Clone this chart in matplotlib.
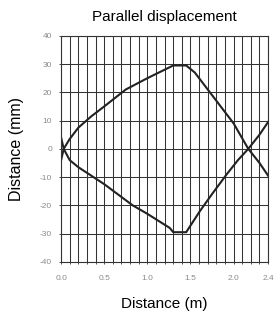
import matplotlib
matplotlib.use("Agg")
import matplotlib.pyplot as plt
import numpy as np

plt.rcParams["font.family"] = ["Liberation Sans", "DejaVu Sans"]

# upper branch (rises to +30, falls through 0 near 2.17)
upper_x = [0.0, 0.03, 0.1, 0.2, 0.35, 0.5, 0.75, 1.0, 1.2, 1.3, 1.45, 1.55, 1.7, 1.9, 2.0, 2.17, 2.3, 2.4]
upper_y = [-4, 0, 3.5, 7.5, 11.5, 15, 21, 25, 28, 29.5, 29.5, 27, 21, 13, 9, 0, -5, -9.5]
# lower branch (mirror)
lower_x = [0.0, 0.03, 0.1, 0.2, 0.35, 0.5, 0.83, 1.0, 1.26, 1.3, 1.45, 1.61, 1.75, 1.92, 2.05, 2.17, 2.3, 2.4]
lower_y = [4, 0, -4, -6.5, -9.5, -12.5, -20, -23, -28, -29.5, -29.5, -22, -16, -9, -4, 0, 5, 9.5]

y_ticks = [-40, -30, -20, -10, 0, 10, 20, 30, 40]
x_ticks = [0.0, 0.5, 1.0, 1.5, 2.0, 2.4]
x_labels = ["0.0", "0.5", "1.0", "1.5", "2.0", "2.4"]

fig = plt.figure(figsize=(2.79, 3.14), dpi=100)
ax = fig.add_axes([0.219, 0.166, 0.742, 0.720])

ax.plot(upper_x, upper_y, color="#222222", lw=1.5, solid_joinstyle="round")
ax.plot(lower_x, lower_y, color="#222222", lw=1.5, solid_joinstyle="round")

ax.set_xlim(0, 2.4)
ax.set_ylim(-40, 40)
ax.set_yticks(y_ticks)
ax.set_yticklabels([str(v) for v in y_ticks], fontsize=6, color="#8a8a8a")
ax.set_xticks(x_ticks)
ax.set_xticklabels(x_labels, fontsize=6, color="#8a8a8a")
ax.set_xticks(np.arange(0, 2.41, 0.1), minor=True)
ax.tick_params(which="both", direction="inout", length=3, width=0.6, color="#333333")
ax.tick_params(axis="x", which="both", pad=8)
ax.tick_params(axis="y", pad=5)

ax.grid(True, which="major", color="#333333", lw=0.75)
ax.grid(True, which="minor", axis="x", color="#333333", lw=0.75)
for s in ax.spines.values():
    s.set_color("#333333")
    s.set_linewidth(0.8)

ax.set_title("Parallel displacement", fontsize=11, pad=11)
ax.set_xlabel("Distance (m)", fontsize=11)
ax.set_ylabel("Distance (mm)", fontsize=11.5)
ax.xaxis.set_label_coords(0.5, -0.155)
ax.yaxis.set_label_coords(-0.18, 0.5)

fig.savefig("out.png", dpi=100)
